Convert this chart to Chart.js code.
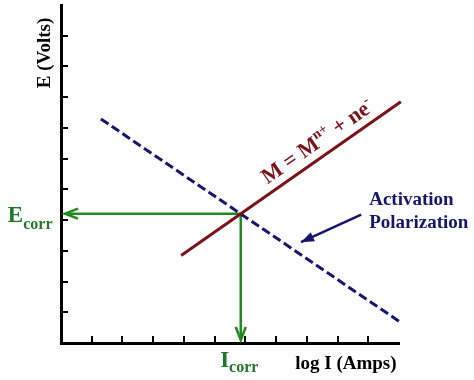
<!DOCTYPE html>
<html>
<head>
<meta charset="utf-8">
<script src="https://cdn.jsdelivr.net/npm/chart.js@4/dist/chart.umd.min.js"></script>
<style>
  html, body { margin: 0; padding: 0; background: #ffffff; }
  #wrap { width: 474px; height: 380px; position: relative; }
</style>
</head>
<body>
<div id="wrap"><canvas id="c" width="474" height="380"></canvas></div>
<script>
// ---- data ----
const xTickValues = [1, 2, 3, 4, 5, 6, 7, 8, 9, 10];
const yTickValues = [1, 2, 3, 4, 5, 6, 7, 8, 9, 10];
const anodicX = [3.91, 11.06];
const anodicY = [2.85, 7.85];
const cathodicX = [1.30, 11.04];
const cathodicY = [7.29, 0.68];
const corrX = 5.85;
const corrY = 4.21;
const eArrowEndX = 0.13;
const iArrowEndY = 0.10;
const polArrowX = [9.77, 7.81];
const polArrowY = [4.18, 3.28];

const axisLabelX = 'log I (Amps)';
const axisLabelY = 'E (Volts)';
const eLabel = ['E', 'corr'];
const iLabel = ['I', 'corr'];
const reactionParts = [['M = M', false], ['n+', true], [' + ne', false], ['-', true]];
const polLabel = ['Activation', 'Polarization'];

const RED = '#7a1317';
const NAVY = '#16166e';
const GREEN = '#1f8a1f';
const GREEN_TXT = '#22782a';
const FONT = '"Liberation Serif", "Times New Roman", serif';

function pts(xs, ys) { return xs.map((x, i) => ({ x: x, y: ys[i] })); }

const arrowPlugin = {
  id: 'annot',
  afterDraw(chart) {
    const ctx = chart.ctx;
    const xs = chart.scales.x, ys = chart.scales.y;
    const X = v => xs.getPixelForValue(v), Y = v => ys.getPixelForValue(v);

    // inward ticks
    ctx.save();
    ctx.strokeStyle = '#000';
    ctx.lineWidth = 2;
    ctx.beginPath();
    xTickValues.forEach(v => {
      const px = Math.round(X(v));
      ctx.moveTo(px, chart.chartArea.bottom);
      ctx.lineTo(px, chart.chartArea.bottom - 7);
    });
    yTickValues.forEach(v => {
      const py = Math.round(Y(v));
      ctx.moveTo(chart.chartArea.left, py);
      ctx.lineTo(chart.chartArea.left + 7, py);
    });
    ctx.stroke();
    ctx.restore();

    // arrowheads
    function head(di, filled, color, len, half, lw) {
      const meta = chart.getDatasetMeta(di);
      const p0 = meta.data[0], p1 = meta.data[1];
      const a = Math.atan2(p1.y - p0.y, p1.x - p0.x);
      ctx.save();
      ctx.translate(p1.x, p1.y);
      ctx.rotate(a);
      ctx.beginPath();
      ctx.moveTo(-len, -half);
      ctx.lineTo(0, 0);
      ctx.lineTo(-len, half);
      if (filled) { ctx.closePath(); ctx.fillStyle = color; ctx.fill(); }
      else { ctx.strokeStyle = color; ctx.lineWidth = lw; ctx.lineJoin = 'miter'; ctx.stroke(); }
      ctx.restore();
    }
    head(2, false, GREEN, 13, 5, 2.5);
    head(3, false, GREEN, 13, 5, 2.5);
    head(4, true, NAVY, 13, 5, 2);

    // texts
    ctx.save();
    ctx.textBaseline = 'alphabetic';
    // x axis title
    ctx.fillStyle = '#000';
    ctx.font = 'bold 19px ' + FONT;
    ctx.textAlign = 'right';
    ctx.fillText(axisLabelX, X(10.92), Y(-0.85));
    // y axis title
    ctx.save();
    ctx.translate(X(-0.52), Y(9.44));
    ctx.rotate(-Math.PI / 2);
    ctx.textAlign = 'center';
    ctx.textBaseline = 'middle';
    ctx.fillText(axisLabelY, 0, 0);
    ctx.restore();

    // E corr
    ctx.textAlign = 'left';
    ctx.fillStyle = GREEN_TXT;
    let ex = X(-1.73), ey = Y(3.94);
    ctx.font = 'bold 23px ' + FONT;
    ctx.fillText(eLabel[0], ex, ey);
    ex += ctx.measureText(eLabel[0]).width;
    ctx.font = 'bold 16px ' + FONT;
    ctx.fillText(eLabel[1], ex, ey + 7);

    // I corr
    let ix = X(5.18), iy = Y(-0.79);
    ctx.font = 'bold 23px ' + FONT;
    ctx.fillText(iLabel[0], ix, iy);
    ix += ctx.measureText(iLabel[0]).width;
    ctx.font = 'bold 16px ' + FONT;
    ctx.fillText(iLabel[1], ix, iy + 5);

    // Activation Polarization
    ctx.fillStyle = NAVY;
    ctx.font = 'bold 19px ' + FONT;
    ctx.fillText(polLabel[0], X(10.03), Y(4.48));
    ctx.fillText(polLabel[1], X(10.03), Y(3.75));

    // reaction along anodic line
    const m = chart.getDatasetMeta(0);
    const ang = Math.atan2(m.data[1].y - m.data[0].y, m.data[1].x - m.data[0].x);
    ctx.save();
    ctx.translate(X(6.72), Y(5.16));
    ctx.rotate(ang);
    ctx.fillStyle = RED;
    let off = 0;
    reactionParts.forEach(([t, sup]) => {
      ctx.font = 'bold ' + (sup ? 14 : 22) + 'px ' + FONT;
      ctx.fillText(t, off, sup ? -9 : 0);
      off += ctx.measureText(t).width;
    });
    ctx.restore();
    ctx.restore();
  }
};

new Chart(document.getElementById('c'), {
  type: 'scatter',
  data: {
    datasets: [
      { data: pts(anodicX, anodicY), showLine: true, borderColor: RED, borderWidth: 3, pointRadius: 0, clip: false },
      { data: pts(cathodicX, cathodicY), showLine: true, borderColor: NAVY, borderWidth: 3, borderDash: [9, 4], pointRadius: 0, clip: false },
      { data: [{ x: corrX, y: corrY }, { x: eArrowEndX, y: corrY }], showLine: true, borderColor: GREEN, borderWidth: 2.5, pointRadius: 0, clip: false },
      { data: [{ x: corrX, y: corrY }, { x: corrX, y: iArrowEndY }], showLine: true, borderColor: GREEN, borderWidth: 2.5, pointRadius: 0, clip: false },
      { data: pts(polArrowX, polArrowY), showLine: true, borderColor: NAVY, borderWidth: 2.5, pointRadius: 0, clip: false }
    ]
  },
  options: {
    responsive: false,
    animation: false,
    events: [],
    layout: { padding: { left: 61, right: 75, top: 5, bottom: 37 } },
    plugins: { legend: { display: false }, tooltip: { enabled: false } },
    scales: {
      x: {
        type: 'linear', min: 0, max: 11,
        grid: { display: false, drawTicks: false },
        ticks: { display: false },
        border: { display: true, color: '#000', width: 3 },
        afterFit: s => { s.height = 0; }
      },
      y: {
        type: 'linear', min: 0, max: 11,
        grid: { display: false, drawTicks: false },
        ticks: { display: false },
        border: { display: true, color: '#000', width: 3 },
        afterFit: s => { s.width = 0; }
      }
    }
  },
  plugins: [arrowPlugin]
});
</script>
</body>
</html>
